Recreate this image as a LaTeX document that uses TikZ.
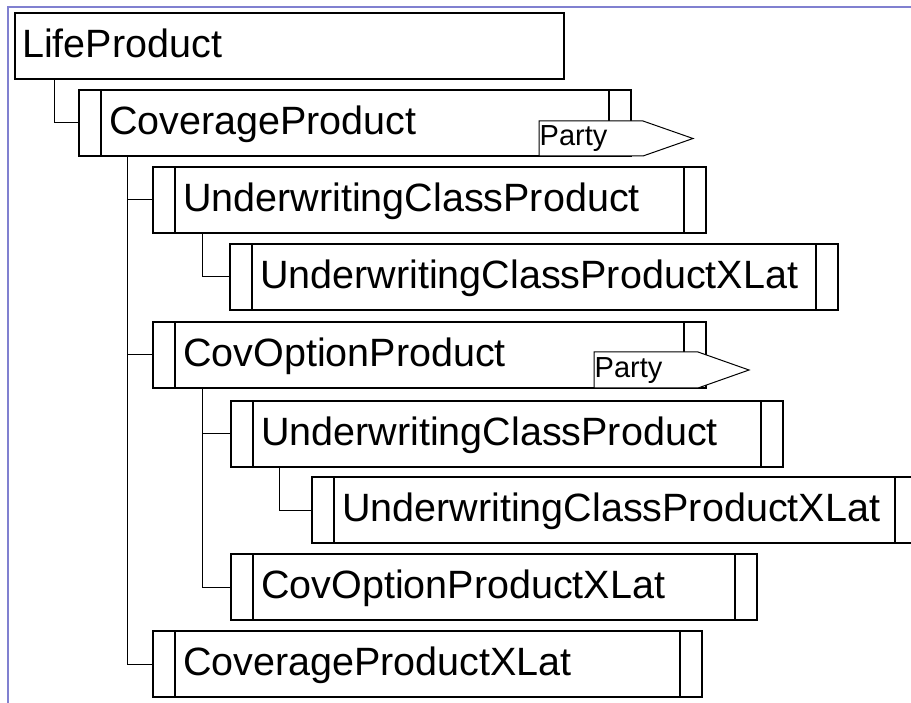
\documentclass[tikz,border=0pt]{standalone}
\usepackage{fontspec}
\setmainfont{Liberation Sans}
\definecolor{framec}{RGB}{128,128,208}
\newcommand\entbars[1]{%
  \draw[bar] ([xshift=22pt]#1.north west) -- ([xshift=22pt]#1.south west);
  \draw[bar] ([xshift=-22pt]#1.north east) -- ([xshift=-22pt]#1.south east);}
\begin{document}
\begin{tikzpicture}[x=1pt,y=-1pt,
  ebox/.style={draw=black, line width=1.3pt, fill=white, rectangle, minimum height=66pt, inner sep=0pt, outer sep=0pt, anchor=north west},
  bar/.style={line width=1.3pt},
  etext/.style={inner sep=0pt, anchor=base west, font=\fontsize{39.5}{47}\selectfont},
  conn/.style={line width=1pt},
  tagbox/.style={draw=black, line width=1pt, fill=white},
  tagtext/.style={inner sep=0pt, anchor=base west, font=\fontsize{29}{34}\selectfont}]
\useasboundingbox (0,0) rectangle (911,703);
\draw[framec, line width=2pt] (8,703) -- (8,7) -- (911,7);

% boxes
\node[ebox, minimum width=549pt] (LP) at (15,13) {};
\node[ebox, minimum width=552pt] (CP) at (79,90) {};
\node[ebox, minimum width=553pt] (UCP1) at (153,167) {};
\node[ebox, minimum width=608pt] (UCPX1) at (230,244) {};
\node[ebox, minimum width=553pt] (COP) at (153,322) {};
\node[ebox, minimum width=552pt] (UCP2) at (231,401) {};
\node[ebox, minimum width=605pt] (UCPX2) at (312,477) {};
\node[ebox, minimum width=526pt] (COPX) at (231,554) {};
\node[ebox, minimum width=549pt] (CPX) at (153,631) {};

\entbars{CP}
\entbars{UCP1}
\entbars{UCPX1}
\entbars{COP}
\entbars{UCP2}
\entbars{UCPX2}
\entbars{COPX}
\entbars{CPX}

% connectors
\draw[conn] ([xshift=39pt]LP.south west) |- (CP.west);
\draw[conn] ([xshift=48pt]CP.south west) |- (UCP1.west);
\draw[conn] ([xshift=48pt]CP.south west) |- (COP.west);
\draw[conn] ([xshift=48pt]CP.south west) |- (CPX.west);
\draw[conn] ([xshift=49pt]UCP1.south west) |- (UCPX1.west);
\draw[conn] ([xshift=49pt]COP.south west) |- (UCP2.west);
\draw[conn] ([xshift=49pt]COP.south west) |- (COPX.west);
\draw[conn] ([xshift=48pt]UCP2.south west) |- (UCPX2.west);

% texts
\node[etext] (LPt) at ([xshift=7pt,yshift=-44.5pt]LP.north west) {LifeProduct};
\node[etext] (CPt) at ([xshift=30pt,yshift=-44.5pt]CP.north west) {CoverageProduct};
\node[etext] (UCP1t) at ([xshift=30pt,yshift=-44.5pt]UCP1.north west) {UnderwritingClassProduct};
\node[etext] (UCPX1t) at ([xshift=30pt,yshift=-44.5pt]UCPX1.north west) {UnderwritingClassProductXLat};
\node[etext] (COPt) at ([xshift=30pt,yshift=-44.5pt]COP.north west) {CovOptionProduct};
\node[etext] (UCP2t) at ([xshift=30pt,yshift=-44.5pt]UCP2.north west) {UnderwritingClassProduct};
\node[etext] (UCPX2t) at ([xshift=30pt,yshift=-44.5pt]UCPX2.north west) {UnderwritingClassProductXLat};
\node[etext] (COPXt) at ([xshift=30pt,yshift=-44.5pt]COPX.north west) {CovOptionProductXLat};
\node[etext] (CPXt) at ([xshift=30pt,yshift=-44.5pt]CPX.north west) {CoverageProductXLat};

% Party tags
\draw[tagbox] (539,121) -- (643,121) -- (693,138.5) -- (643,156) -- (539,156) -- cycle;
\node[tagtext] (party1) at (539.5,145.5) {Party};
\draw[tagbox] (594,352) -- (698,352) -- (749,370) -- (698,388) -- (594,388) -- cycle;
\node[tagtext] (party2) at (594.5,377.5) {Party};
\end{tikzpicture}
\end{document}
